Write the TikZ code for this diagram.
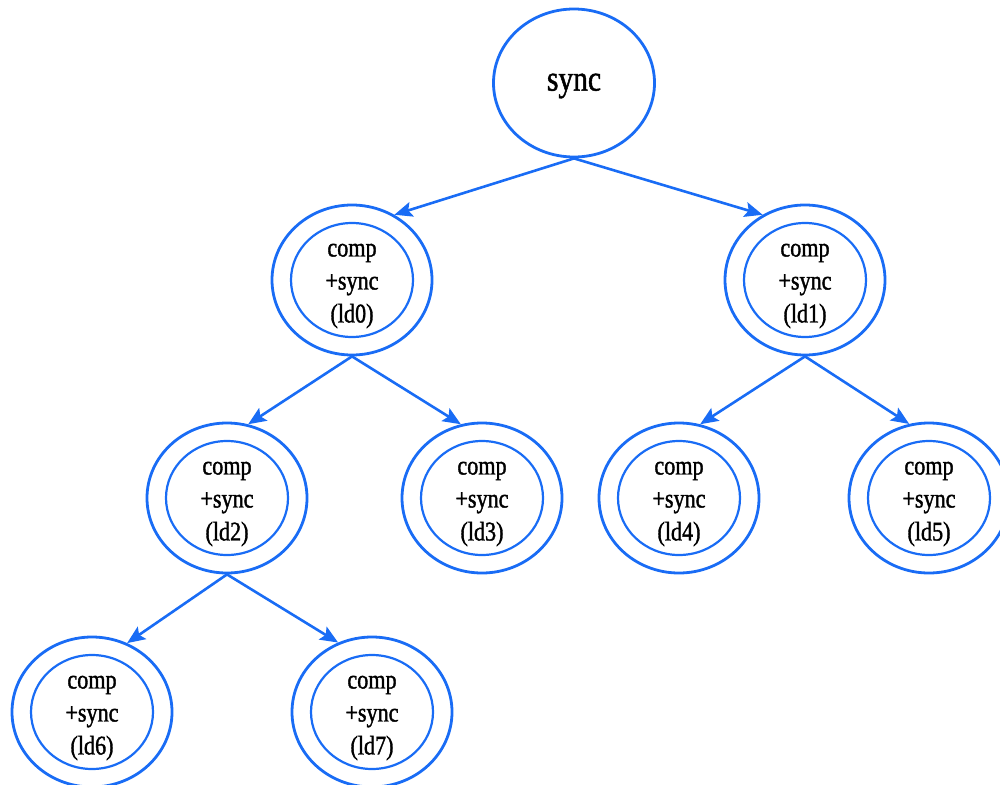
\documentclass[tikz,border=0pt]{standalone}
\usepackage{fontspec}
\newfontfamily\labfont[FakeStretch=0.82,FakeBold=1.3]{Liberation Serif}
\usetikzlibrary{arrows.meta,shapes.geometric}
\definecolor{nodeblue}{RGB}{25,108,245}
\tikzset{
  rootring/.style={ellipse, draw=nodeblue, line width=2.8pt,
    minimum width=161pt, minimum height=148pt, inner sep=0pt},
  outerring/.style={ellipse, draw=nodeblue, line width=2.8pt,
    minimum width=160pt, minimum height=150pt, inner sep=0pt},
  innerring/.style={ellipse, draw=nodeblue, line width=2.2pt,
    minimum width=122pt, minimum height=114pt, inner sep=0pt},
  labeltext/.style={font=\labfont\fontsize{27}{33}\selectfont,
    align=center, inner sep=0pt},
  roottext/.style={font=\labfont\fontsize{36}{40}\selectfont, inner sep=0pt},
  link/.style={draw=nodeblue, line width=2.6pt,
    -{Stealth[length=18pt,width=15pt,inset=3.5pt]}}
}
\begin{document}
\begin{tikzpicture}[x=1pt,y=-1pt]
\useasboundingbox (0,0) rectangle (1000,784);

% root
\node[rootring] (sync) at (574,83) {};
\node[roottext] (synct) at (574,86) {sync};

% compute + sync stages
\foreach \n/\x/\y/\t in {ld0/352/280/{comp\\+sync\\(ld0)},
                         ld1/805/280/{comp\\+sync\\(ld1)},
                         ld2/227/498/{comp\\+sync\\(ld2)},
                         ld3/482/498/{comp\\+sync\\(ld3)},
                         ld4/679/498/{comp\\+sync\\(ld4)},
                         ld5/929/498/{comp\\+sync\\(ld5)},
                         ld6/92/712/{comp\\+sync\\(ld6)},
                         ld7/372/712/{comp\\+sync\\(ld7)}}{
  \node[outerring] (\n) at (\x,\y) {};
  \node[innerring] (\n i) at (\x,\y) {};
  \node[labeltext] (\n t) at (\x,\y+6) {\t};
}

% tree edges
\draw[link] (sync.south) -- (ld0.57);
\draw[link] (sync.south) -- (ld1.123);
\draw[link] (ld0.south) -- (ld2.74);
\draw[link] (ld0.south) -- (ld3.106);
\draw[link] (ld1.south) -- (ld4.74);
\draw[link] (ld1.south) -- (ld5.105);
\draw[link] (ld2.south) -- (ld6.63);
\draw[link] (ld2.south) -- (ld7.116);
\end{tikzpicture}
\end{document}
